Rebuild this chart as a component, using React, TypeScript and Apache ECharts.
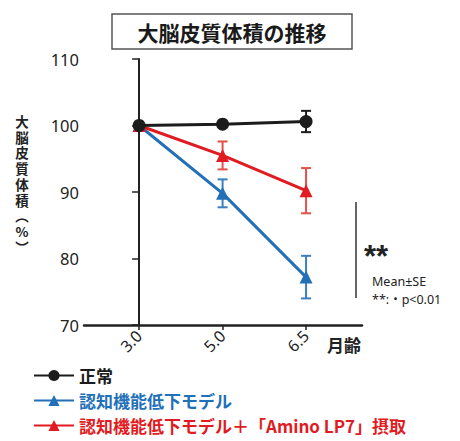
import React, { useEffect, useRef } from "react";
import * as echarts from "echarts";

const xLabels = ["3.0", "5.0", "6.5"];
const normalMean = [100, 100.2, 100.6];
const normalSE = [0, 0, 1.6];
const modelMean = [100, 89.8, 77.2];
const modelSE = [0, 2.1, 3.2];
const aminoMean = [100, 95.5, 90.2];
const aminoSE = [0, 2.1, 3.4];
const yTicks = [70, 80, 90, 100, 110];
const seriesNames = ["正常", "認知機能低下モデル", "認知機能低下モデル＋「Amino LP7」摂取"];

const BLACK = "#1c1c1c";
const BLUE = "#2270b8";
const RED = "#e01b22";
const BLUE_ERR = "#3a7fc2";
const RED_ERR = "#e4504a";
const FONT = "'Noto Sans', 'Noto Sans CJK JP', sans-serif";
const CJK = "'Noto Sans CJK JP', sans-serif";

function pts(mean: number[]) {
  return mean.map((v, i) => [i, v]);
}
function errData(mean: number[], se: number[]) {
  return mean.map((v, i) => [i, v - se[i], v + se[i]]);
}

function errorSeries(mean: number[], se: number[], color: string) {
  return {
    type: "custom",
    z: 1,
    silent: true,
    data: errData(mean, se),
    renderItem: (params: any, api: any) => {
      const x = api.value(0);
      const lo = api.value(1);
      const hi = api.value(2);
      if (hi - lo <= 0) return { type: "group", children: [] };
      const pLo = api.coord([x, lo]);
      const pHi = api.coord([x, hi]);
      const w = 5;
      const style = { stroke: color, lineWidth: 2 };
      return {
        type: "group",
        children: [
          { type: "line", shape: { x1: pLo[0], y1: pLo[1], x2: pHi[0], y2: pHi[1] }, style },
          { type: "line", shape: { x1: pLo[0] - w, y1: pLo[1], x2: pLo[0] + w, y2: pLo[1] }, style },
          { type: "line", shape: { x1: pHi[0] - w, y1: pHi[1], x2: pHi[0] + w, y2: pHi[1] }, style },
        ],
      };
    },
  };
}

export default function App() {
  const ref = useRef<HTMLDivElement>(null);
  useEffect(() => {
    if (!ref.current) return;
    const chart = echarts.init(ref.current, null, { renderer: "svg" });
    const yNameChars = ["大", "脳", "皮", "質", "体", "積", "︵", "%", "︶"];
    const yNameTexts = yNameChars.map((c, i) => ({
      type: "text",
      x: 22,
      y: 121 + i * 15.7,
      style: {
        text: c,
        fontSize: 13.5,
        fontWeight: "bold",
        fontFamily: CJK,
        fill: "#222",
        align: "center",
        verticalAlign: "middle",
      },
    }));
    const legendColors = [BLACK, BLUE, RED];
    const legendTops = [367, 392, 417];
    const legends = seriesNames.map((n, i) => ({
      orient: "horizontal",
      left: 33,
      top: legendTops[i],
      itemWidth: 40,
      itemHeight: 14,
      selectedMode: false,
      padding: 0,
      textStyle: { fontSize: 17, fontWeight: "bold", fontFamily: CJK, color: legendColors[i] },
      data: [n],
    }));
    const option: any = {
      animation: false,
      backgroundColor: "#ffffff",
      grid: { left: 84, top: 59, width: 278, height: 266, containLabel: false },
      xAxis: {
        type: "value",
        min: -0.66,
        max: 2.67,
        splitLine: { show: false },
        axisLine: { show: true, lineStyle: { color: "#222", width: 2.5 } },
        axisTick: { show: true, customValues: [0, 1, 2], length: 5, lineStyle: { color: "#222", width: 1.5 } },
        axisLabel: {
          customValues: [0, 1, 2],
          rotate: 45,
          fontSize: 16,
          margin: 8,
          color: "#222",
          fontFamily: FONT,
          formatter: (v: number) => xLabels[Math.round(v)] ?? "",
        },
      },
      yAxis: {
        type: "value",
        min: yTicks[0],
        max: yTicks[yTicks.length - 1],
        interval: 10,
        splitLine: { show: false },
        axisLine: { show: true, lineStyle: { color: "#222", width: 2 } },
        axisTick: { show: true, length: 7, lineStyle: { color: "#222", width: 1.5 } },
        axisLabel: { fontSize: 16.5, margin: 5, color: "#222", fontFamily: FONT },
      },
      legend: legends,
      series: [
        errorSeries(modelMean, modelSE, BLUE_ERR),
        errorSeries(aminoMean, aminoSE, RED_ERR),
        errorSeries(normalMean, normalSE, BLACK),
        {
          name: seriesNames[1],
          type: "line",
          z: 2,
          data: pts(modelMean),
          symbol: "triangle",
          symbolSize: 13,
          lineStyle: { color: BLUE, width: 3 },
          itemStyle: { color: BLUE },
        },
        {
          name: seriesNames[2],
          type: "line",
          z: 3,
          data: pts(aminoMean),
          symbol: "triangle",
          symbolSize: 13,
          lineStyle: { color: RED, width: 3 },
          itemStyle: { color: RED },
        },
        {
          name: seriesNames[0],
          type: "line",
          z: 4,
          data: pts(normalMean),
          symbol: "circle",
          symbolSize: 13,
          lineStyle: { color: BLACK, width: 3 },
          itemStyle: { color: BLACK },
        },
      ],
      graphic: [
        {
          type: "rect",
          shape: { x: 112, y: 14, width: 240, height: 35 },
          style: { fill: "#fff", stroke: "#555", lineWidth: 1.5 },
        },
        {
          type: "text",
          x: 232,
          y: 31.5,
          style: {
            text: "大脳皮質体積の推移",
            fontSize: 21,
            fontWeight: "bold",
            fontFamily: CJK,
            fill: "#1a1a1a",
            align: "center",
            verticalAlign: "middle",
          },
        },
        ...yNameTexts,
        {
          type: "text",
          x: 327,
          y: 344,
          style: {
            text: "月齢",
            fontSize: 17,
            fontWeight: "bold",
            fontFamily: CJK,
            fill: "#222",
            verticalAlign: "middle",
          },
        },
        {
          type: "line",
          shape: { x1: 356, y1: 202, x2: 356, y2: 298 },
          style: { stroke: "#333", lineWidth: 1.5 },
        },
        {
          type: "text",
          x: 364,
          y: 256,
          style: {
            text: "**",
            fontSize: 31,
            fontWeight: "bold",
            fontFamily: "'Liberation Sans', sans-serif",
            fill: "#222",
            verticalAlign: "middle",
          },
        },
        {
          type: "text",
          x: 372,
          y: 281,
          style: {
            text: "Mean±SE",
            fontSize: 12.5,
            fontFamily: FONT,
            fill: "#222",
            verticalAlign: "middle",
          },
        },
        {
          type: "text",
          x: 372,
          y: 299,
          style: {
            text: "**:・p<0.01",
            fontSize: 12.5,
            fontFamily: FONT,
            fill: "#222",
            verticalAlign: "middle",
          },
        },
      ],
    };
    chart.setOption(option);
    return () => chart.dispose();
  }, []);
  return (
    <div
      ref={ref}
      style={{ position: "fixed", left: 0, top: 0, width: 460, height: 441, background: "#fff" }}
    />
  );
}
